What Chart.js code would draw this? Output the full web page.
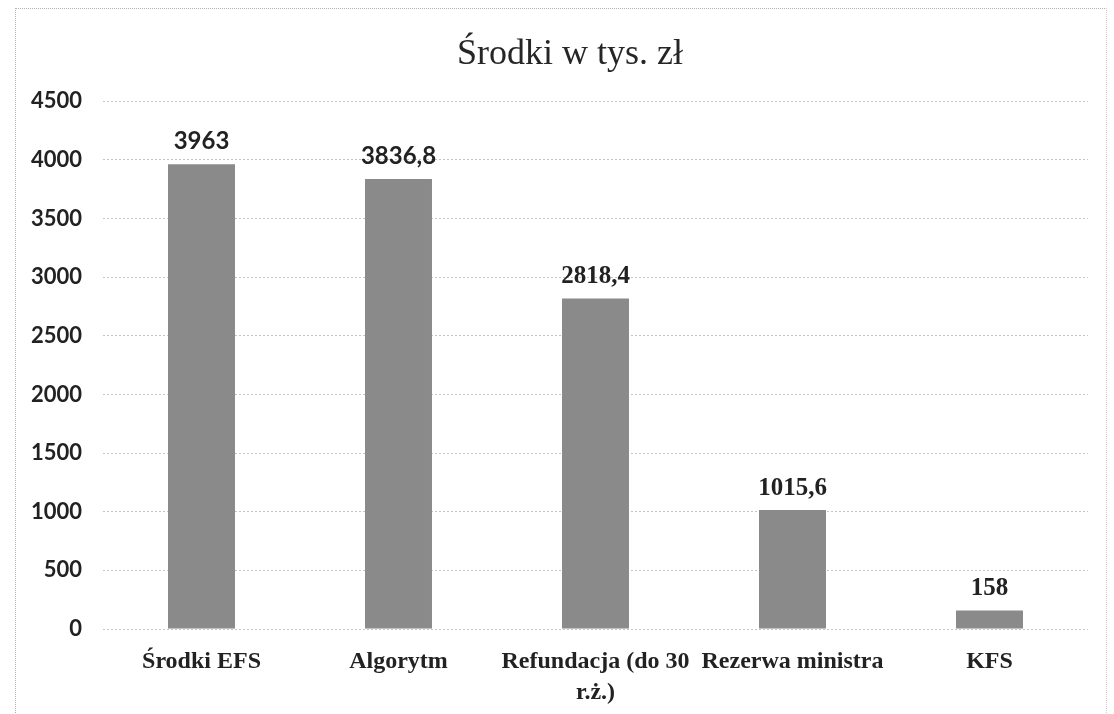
<!DOCTYPE html>
<html>
<head>
<meta charset="utf-8">
<script src="https://cdn.jsdelivr.net/npm/chart.js@4.4.1/dist/chart.umd.min.js"></script>
<style>
    body { margin: 0; background: #fff; overflow: hidden; }
    #wrap {
        position: absolute; left: 15px; top: 8px;
        width: 1090px; height: 706px;
        border-left: 1px dotted #b0b0b0; border-top: 1px dotted #b0b0b0;
        border-right: 1px dotted #d0d0d0;
    }
</style>
</head>
<body>
<div id="wrap"><canvas id="chart" width="1089" height="705"></canvas></div>
<script>
const categories = ['Środki EFS', 'Algorytm', ['Refundacja (do 30', 'r.ż.)'], 'Rezerwa ministra', 'KFS'];
const values = [3963, 3836.8, 2818.4, 1015.6, 158];
const valueLabels = ['3963', '3836,8', '2818,4', '1015,6', '158'];
const yTicks = [0, 500, 1000, 1500, 2000, 2500, 3000, 3500, 4000, 4500];
const titleText = 'Środki w tys. zł';

// the scan mixes a sans and a serif face in the value labels
const labelFonts = ['bold 24px Lato', 'bold 24px Lato', 'bold 25px "Liberation Serif"',
    'bold 25px "Liberation Serif"', 'bold 25px "Liberation Serif"'];

const barValues = {
    id: 'barValues',
    afterDatasetsDraw(chart) {
        const ctx = chart.ctx;
        const meta = chart.getDatasetMeta(0);
        ctx.save();
        ctx.fillStyle = '#222';
        ctx.textAlign = 'center';
        ctx.textBaseline = 'alphabetic';
        meta.data.forEach((bar, i) => {
            ctx.font = labelFonts[i];
            ctx.fillText(valueLabels[i], bar.x, bar.y - 15);
        });
        ctx.restore();
    }
};

// title sits a bit right of the canvas centre in the original, so draw it here
// (the built-in title stays, invisible, to keep the space)
const offsetTitle = {
    id: 'offsetTitle',
    afterDraw(chart) {
        const tb = chart.titleBlock;
        const ctx = chart.ctx;
        ctx.save();
        ctx.font = '36px "Liberation Serif"';
        ctx.fillStyle = '#262626';
        ctx.textAlign = 'center';
        ctx.textBaseline = 'middle';
        ctx.fillText(titleText, 554, tb.top + 14 + 36 * 1.2 / 2);
        ctx.restore();
    }
};

const ctx = document.getElementById('chart').getContext('2d');
new Chart(ctx, {
    type: 'bar',
    data: {
        labels: categories,
        datasets: [{
            data: values,
            backgroundColor: '#8a8a8a',
            categoryPercentage: 1,
            barPercentage: 0.34
        }]
    },
    plugins: [barValues, offsetTitle],
    options: {
        responsive: false,
        animation: false,
        layout: { padding: { top: 10, right: 17, bottom: 0, left: 0 } },
        plugins: {
            legend: { display: false },
            tooltip: { enabled: false },
            title: {
                display: true,
                text: titleText,
                color: 'rgba(0,0,0,0)',
                font: { family: 'Liberation Serif', size: 36, weight: 'normal' },
                padding: { top: 11, bottom: 28 }
            }
        },
        scales: {
            x: {
                grid: { display: false },
                border: { display: false },
                ticks: {
                    color: '#222',
                    font: { family: 'Liberation Serif', size: 24, weight: 'bold', lineHeight: 1.3 },
                    maxRotation: 0,
                    autoSkip: false,
                    padding: 9
                },
                afterFit(scale) { scale.height = 85; }
            },
            y: {
                min: 0,
                max: 4500,
                afterBuildTicks(scale) { scale.ticks = yTicks.map(v => ({ value: v })); },
                grid: { color: '#c4c4c4', drawTicks: false },
                border: { display: false, dash: [2, 2] },
                ticks: {
                    color: '#222',
                    font: { family: 'Lato', size: 22, weight: 'bold' },
                    padding: 21,
                    callback: v => String(v)
                },
                afterFit(scale) { scale.width = 87; }
            }
        }
    }
});
</script>
</body>
</html>
